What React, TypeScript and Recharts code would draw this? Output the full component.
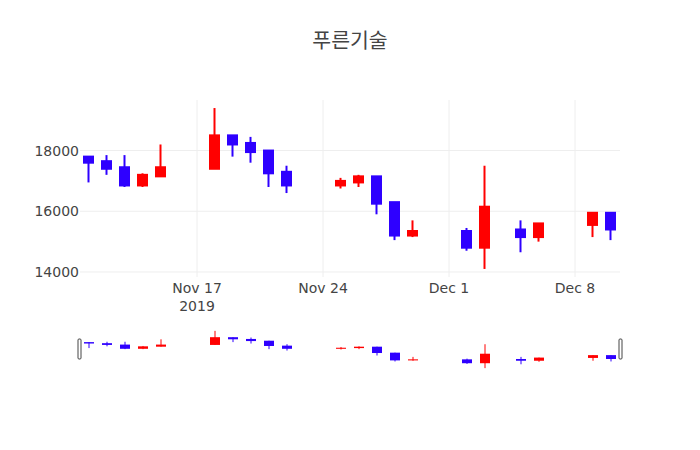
import React from 'react';
import { ComposedChart, Bar, XAxis, YAxis, CartesianGrid } from 'recharts';

const dates = [
  '2019-11-11', '2019-11-12', '2019-11-13', '2019-11-14', '2019-11-15',
  '2019-11-18', '2019-11-19', '2019-11-20', '2019-11-21', '2019-11-22',
  '2019-11-25', '2019-11-26', '2019-11-27', '2019-11-28', '2019-11-29',
  '2019-12-02', '2019-12-03', '2019-12-05', '2019-12-06',
  '2019-12-09', '2019-12-10',
];
const opens = [
  17800, 17650, 17450, 16850, 17150,
  17400, 18500, 18250, 18000, 17300,
  16850, 16950, 17150, 16300, 15200,
  15350, 14800, 15400, 15150,
  15550, 15950,
];
const highs = [
  17800, 17850, 17850, 17250, 18200,
  19400, 18500, 18450, 18000, 17500,
  17100, 17200, 17150, 16300, 15700,
  15450, 17500, 15700, 15600,
  15950, 15950,
];
const lows = [
  16950, 17200, 16800, 16800, 17150,
  17400, 17800, 17600, 16800, 16600,
  16750, 16800, 15900, 15050, 15150,
  14700, 14100, 14650, 15000,
  15150, 15050,
];
const closes = [
  17600, 17400, 16850, 17200, 17450,
  18500, 18200, 17950, 17250, 16850,
  17000, 17150, 16250, 15200, 15350,
  14800, 16150, 15150, 15600,
  15950, 15400,
];
const yTicks = [14000, 16000, 18000];
const xTickDates = ['2019-11-17', '2019-11-24', '2019-12-01', '2019-12-08'];
const xTickYearLabel = '2019';
const TITLE = '푸른기술';

const DAY = 86400000;
const toDay = (s: string) => Date.parse(s + 'T00:00:00Z') / DAY;
const MONTHS = ['Jan', 'Feb', 'Mar', 'Apr', 'May', 'Jun', 'Jul', 'Aug', 'Sep', 'Oct', 'Nov', 'Dec'];
const fmtDay = (d: number) => {
  const dt = new Date(Math.round(d) * DAY);
  return `${MONTHS[dt.getUTCMonth()]} ${dt.getUTCDate()}`;
};

const data = dates.map((d, i) => ({
  t: toDay(d),
  range: [lows[i], highs[i]],
  open: opens[i],
  high: highs[i],
  low: lows[i],
  close: closes[i],
}));

const X_DOMAIN: [number, number] = [toDay('2019-11-10') + 0.5, toDay('2019-12-10') + 0.5];
const Y_DOMAIN: [number, number] = [13835, 19665];

const RED = '#ff0000';
const BLUE = '#2e00ff';
const FONT = '"DejaVu Sans", verdana, arial, sans-serif';
const TITLE_FONT = '"Noto Sans CJK KR", "DejaVu Sans", sans-serif';

function makeCandle(wickW: number, bodyStroke: number, bodyW: number) {
  return (props: any) => {
    const { x, y, width, height, payload } = props;
    if (!payload) return null;
    const top = Math.min(y, y + height);
    const bot = Math.max(y, y + height);
    const { high, low, open, close } = payload;
    const py = (v: number) => top + ((high - v) / (high - low)) * (bot - top);
    const cx = x + width / 2;
    const color = close >= open ? RED : BLUE;
    const yO = py(open);
    const yC = py(close);
    const bt = Math.min(yO, yC);
    const bb = Math.max(yO, yC);
    const inner = bodyW - bodyStroke;
    return (
      <g>
        <line x1={cx} x2={cx} y1={top} y2={bot} stroke={color} strokeWidth={wickW} />
        <rect
          x={cx - inner / 2}
          y={bt}
          width={inner}
          height={Math.max(bb - bt, 0.01)}
          fill={color}
          stroke={bodyStroke > 0 ? color : 'none'}
          strokeWidth={bodyStroke}
        />
      </g>
    );
  };
}

const XTick = (props: any) => {
  const { x, payload, index } = props;
  const base = 277;
  return (
    <g>
      <text x={x} y={base + 15.5} textAnchor="middle" fill="#444" fontSize={14} fontFamily={FONT}>
        {fmtDay(payload.value)}
      </text>
      {index === 0 && (
        <text x={x} y={base + 34} textAnchor="middle" fill="#444" fontSize={14} fontFamily={FONT}>
          {xTickYearLabel}
        </text>
      )}
    </g>
  );
};

const mainCandle = makeCandle(2, 2, 11);
const sliderCandle = makeCandle(1, 0, 10);

const applyScale = (axis: any, v: number, lo: number, hi: number, d0: number, d1: number) => {
  const s = axis && axis.scale;
  if (typeof s === 'function') return s(v);
  if (s && typeof s.map === 'function') return s.map(v);
  if (s && typeof s.apply === 'function') return s.apply(v);
  return lo + ((v - d0) / (d1 - d0)) * (hi - lo);
};

const hGrid = (p: any) =>
  yTicks.map((v) =>
    applyScale(p.yAxis, v, p.offset.top + p.offset.height, p.offset.top, Y_DOMAIN[0], Y_DOMAIN[1]),
  );
const vGrid = (p: any) =>
  xTickDates.map((d) =>
    applyScale(p.xAxis, toDay(d), p.offset.left, p.offset.left + p.offset.width, X_DOMAIN[0], X_DOMAIN[1]),
  );

export default function App() {
  return (
    <div style={{ position: 'absolute', left: 0, top: 0, width: 700, height: 450, background: '#fff', fontFamily: FONT }}>
      <div style={{ position: 'absolute', left: 0, top: 0 }}>
        <ComposedChart width={700} height={450} data={data} margin={{ top: 100, right: 80, bottom: 133, left: 0 }}>
          <CartesianGrid
            stroke="#eeeeee"
            strokeWidth={1}
            horizontalCoordinatesGenerator={hGrid}
            verticalCoordinatesGenerator={vGrid}
          />
          <XAxis
            dataKey="t"
            type="number"
            domain={X_DOMAIN}
            allowDataOverflow
            ticks={xTickDates.map(toDay)}
            interval={0}
            tick={<XTick />}
            tickLine={false}
            axisLine={false}
            height={40}
            tickSize={0}
          />
          <YAxis
            type="number"
            domain={Y_DOMAIN}
            allowDataOverflow
            ticks={yTicks}
            interval={0}
            width={80}
            tickLine={false}
            axisLine={false}
            tickSize={0}
            tickMargin={1}
            tick={{ fill: '#444', fontSize: 14, fontFamily: FONT }}
          />
          <Bar dataKey="range" barSize={11} isAnimationActive={false} shape={mainCandle} />
        </ComposedChart>
      </div>
      <div style={{ position: 'absolute', left: 0, top: 0 }}>
        <ComposedChart width={700} height={450} data={data} margin={{ top: 329, right: 80, bottom: 80, left: 80 }}>
          <XAxis dataKey="t" type="number" domain={X_DOMAIN} allowDataOverflow hide />
          <YAxis type="number" domain={Y_DOMAIN} allowDataOverflow hide />
          <Bar dataKey="range" barSize={10} isAnimationActive={false} shape={sliderCandle} />
        </ComposedChart>
      </div>
      <svg width={700} height={450} style={{ position: 'absolute', left: 0, top: 0, pointerEvents: 'none' }}>
        <text x={350} y={47.5} textAnchor="middle" fill="#444" fontSize={20.5} fontFamily={TITLE_FONT}>
          {TITLE}
        </text>
        <rect x={78} y={339} width={3} height={20} rx={1} ry={1} fill="#fff" stroke="#444" strokeWidth={1} />
        <rect x={619} y={339} width={3} height={20} rx={1} ry={1} fill="#fff" stroke="#444" strokeWidth={1} />
      </svg>
    </div>
  );
}
